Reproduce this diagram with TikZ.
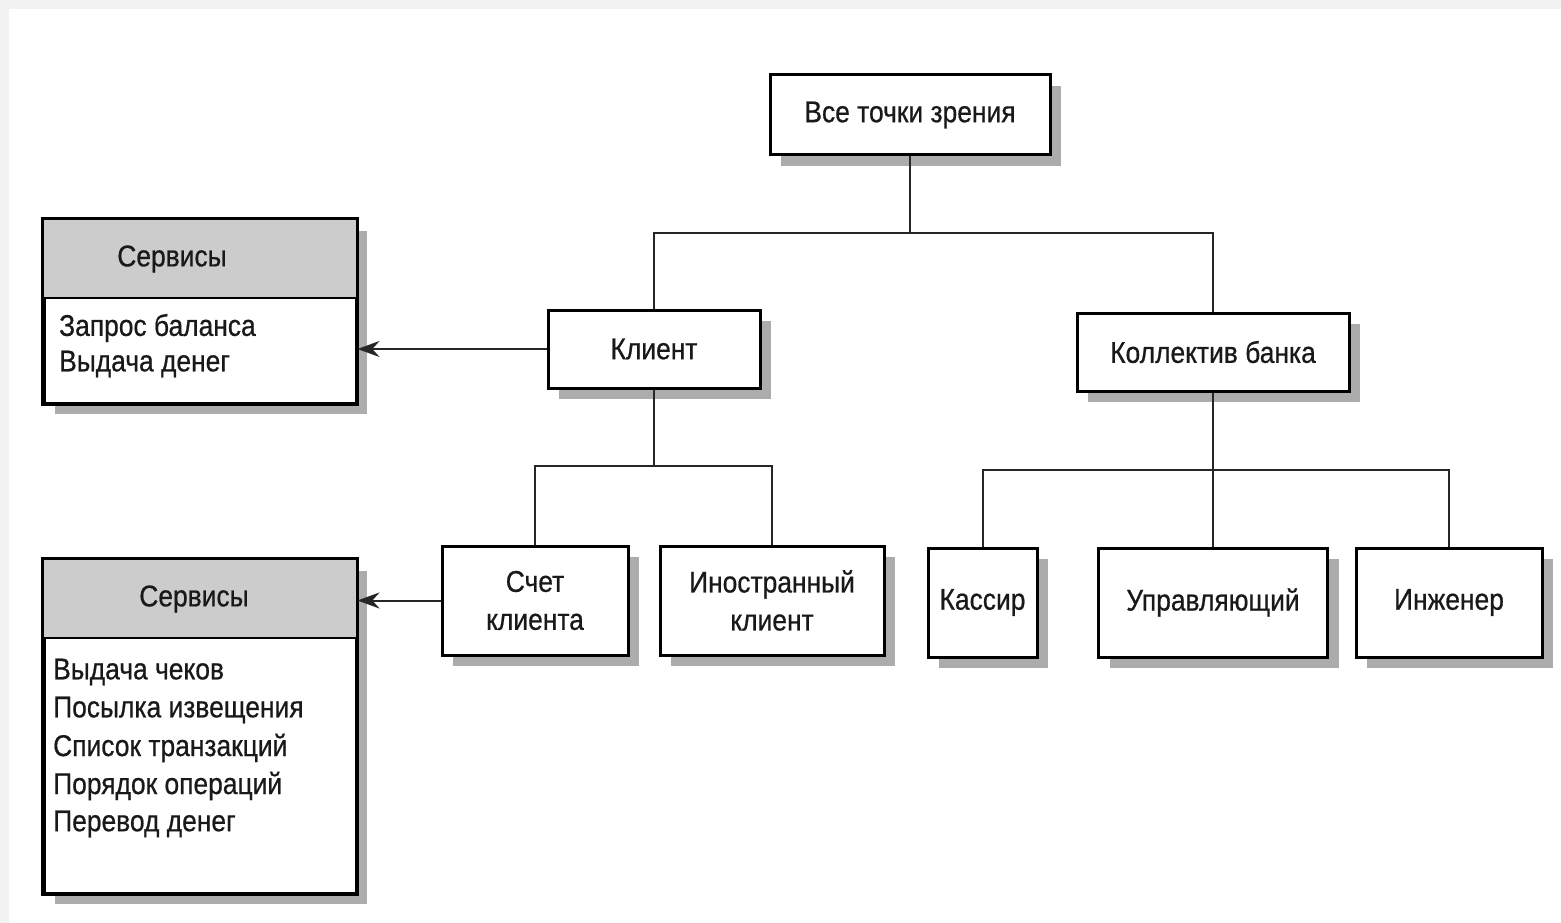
\documentclass[tikz,border=0pt]{standalone}
\usepackage{fontspec}
\setmainfont{Liberation Sans}[FakeStretch=0.88, FakeBold=0.6]
\usetikzlibrary{shadows,arrows.meta}
\tikzset{
  box/.style={draw=black, line width=3pt, fill=white, rectangle, align=center,
    inner sep=0pt, drop shadow={shadow xshift=11pt, shadow yshift=-11pt, fill=gray!65, opacity=1}},
  conn/.style={draw=black!85, line width=2pt},
  arr/.style={conn, -{Stealth[length=22pt,width=16pt]}},
  hdr/.style={fill=gray!40, draw=none},
  lbl/.style={inner sep=0pt, anchor=west},
}
\begin{document}
\begin{tikzpicture}[x=1pt,y=-1pt, font=\fontsize{30}{38}\selectfont, text=black!90]
\useasboundingbox (0,0) rectangle (1561,923);
\fill[gray!10] (0,0) rectangle (1561,923);
\fill[white] (9,9) rectangle (1561,923);

% top level
\node[box, minimum width=280, minimum height=80] (all) at (910,115) {Все точки зрения};
% level 2
\node[box, minimum width=212, minimum height=78] (kl) at (654,349) {Клиент};
\node[box, minimum width=272, minimum height=78] (kb) at (1213,352) {Коллектив банка};
% level 3
\node[box, minimum width=186, minimum height=109] (sch) at (535,600.5) {Счет\\клиента};
\node[box, minimum width=224, minimum height=109] (ino) at (772,600.5) {Иностранный\\клиент};
\node[box, minimum width=109, minimum height=109] (kas) at (982.5,602.5) {Кассир};
\node[box, minimum width=229, minimum height=109] (upr) at (1213,602.5) {Управляющий};
\node[box, minimum width=186, minimum height=109] (inz) at (1449,602.5) {Инженер};

% service boxes
\node[box, minimum width=312, minimum height=183] (s1) at (200,311.5) {};
\fill[hdr] ([shift={(1.5pt,-1.5pt)}]s1.north west) rectangle ([xshift=-1.5pt]s1.east |- 0,298);
\draw[line width=2.5pt] (s1.west |- 0,298) -- (s1.east |- 0,298);
\draw[line width=3pt] (s1.north west) rectangle (s1.south east);
\node[inner sep=0pt] (s1h) at (172,259) {Сервисы};
\node[lbl] (s1a) at (59,328) {Запрос баланса};
\node[lbl] (s1b) at (59,364) {Выдача денег};

\node[box, minimum width=312, minimum height=333] (s2) at (200,726.5) {};
\fill[hdr] ([shift={(1.5pt,-1.5pt)}]s2.north west) rectangle ([xshift=-1.5pt]s2.east |- 0,638);
\draw[line width=2.5pt] (s2.west |- 0,638) -- (s2.east |- 0,638);
\draw[line width=3pt] (s2.north west) rectangle (s2.south east);
\node[inner sep=0pt] (s2h) at (194,599) {Сервисы};
\node[lbl] (s2a) at (53,672) {Выдача чеков};
\node[lbl] (s2b) at (53,710) {Посылка извещения};
\node[lbl] (s2c) at (53,748) {Список транзакций};
\node[lbl] (s2d) at (53,786) {Порядок операций};
\node[lbl] (s2e) at (53,824) {Перевод денег};

% tree connectors
\draw[conn] (all.south) -- (910,233) coordinate (j1);
\draw[conn] (kl.north) |- (j1) -| (kb.north);
\draw[conn] (kl.south) -- (654,466) coordinate (j2);
\draw[conn] (sch.north) |- (j2) -| (ino.north);
\draw[conn] (kb.south) -- (1213,470) coordinate (j3);
\draw[conn] (kas.north) |- (j3) -| (inz.north);
\draw[conn] (j3) -- (upr.north);

% arrows to services
\draw[arr] (kl.west) -- (s1.east |- kl.west);
\draw[arr] (sch.west) -- (s2.east |- sch.west);
\end{tikzpicture}
\end{document}
